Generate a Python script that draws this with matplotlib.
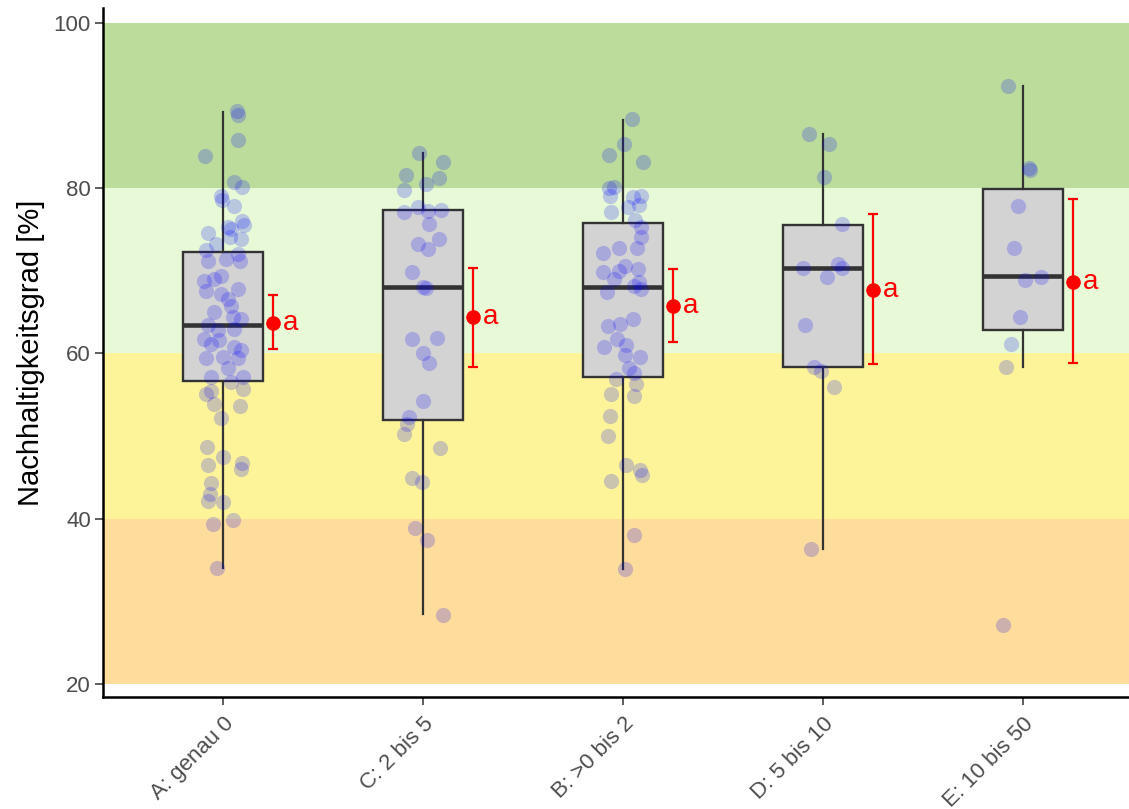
import matplotlib
matplotlib.use("Agg")
import matplotlib.pyplot as plt
import numpy as np

plt.rcParams["font.family"] = ["Liberation Sans", "DejaVu Sans"]

categories = ["A: genau 0", "C: 2 bis 5", "B: >0 bis 2", "D: 5 bis 10", "E: 10 bis 50"]

# individual observations (Nachhaltigkeitsgrad in %) and the observed jitter offsets
values_A = [89.3, 88.8, 85.8, 83.9, 80.7, 80.2, 79.1, 78.6, 77.8, 76.0, 75.5, 75.3, 75.0, 74.6,
            73.9, 74.1, 73.3, 72.5, 72.0, 71.4, 71.2, 71.2, 68.8, 69.4, 69.0, 67.8, 67.6, 67.2,
            66.6, 65.8, 65.0, 64.4, 64.2, 63.4, 62.8, 63.0, 61.8, 61.2, 61.6, 60.8, 60.4, 59.4,
            59.6, 59.4, 58.2, 57.1, 57.1, 56.5, 55.1, 55.5, 55.7, 53.9, 53.6, 52.2, 48.7, 47.5,
            46.5, 46.7, 46.0, 44.3, 43.0, 42.2, 42.0, 39.4, 39.9, 34.0]
jitter_A = [0.07, 0.077, 0.073, -0.089, 0.053, 0.093, -0.01, -0.007, 0.053, 0.093, 0.103, 0.023,
            0.04, -0.077, 0.09, 0.037, -0.035, -0.085, 0.077, 0.015, -0.077, 0.087, -0.093, -0.01,
            -0.043, 0.077, -0.085, -0.01, 0.023, 0.04, -0.043, 0.048, 0.09, -0.077, -0.027, 0.057,
            -0.093, -0.06, -0.018, 0.057, 0.09, -0.085, -0.002, 0.073, 0.023, -0.06, 0.098, 0.04,
            -0.085, -0.06, 0.098, -0.043, 0.087, -0.01, -0.08, 0.002, -0.077, 0.093, 0.09, -0.06,
            -0.063, -0.077, 0.002, -0.052, 0.048, -0.032]

values_C = [84.3, 83.2, 81.6, 81.2, 80.5, 79.8, 77.7, 77.1, 77.2, 77.4, 75.7, 73.9, 73.3, 72.6,
            69.9, 68.1, 67.9, 61.8, 61.9, 60.0, 58.9, 54.3, 52.3, 51.5, 50.3, 48.5, 44.9, 44.5,
            38.9, 37.4, 28.4]
jitter_C = [-0.018, 0.098, -0.085, 0.082, 0.015, -0.093, -0.027, -0.097, 0.023, 0.09, 0.028,
            0.078, -0.023, 0.027, -0.055, -0.002, 0.015, -0.055, 0.07, -0.002, 0.032, -0.002,
            -0.068, -0.082, -0.097, 0.087, -0.057, -0.005, -0.04, 0.018, 0.1]

values_B = [88.4, 85.3, 84.0, 83.2, 80.0, 80.2, 79.1, 78.9, 79.0, 78.0, 77.7, 77.1, 76.1, 75.3,
            74.1, 72.7, 72.8, 72.1, 70.6, 70.2, 69.8, 70.0, 69.0, 68.6, 68.2, 67.8, 67.4, 64.2,
            63.3, 63.6, 61.7, 60.8, 61.0, 59.8, 59.6, 58.2, 56.9, 57.6, 56.3, 55.1, 54.9, 52.4,
            50.0, 46.5, 45.9, 45.3, 44.6, 38.0, 33.9]
jitter_B = [0.045, 0.007, -0.072, 0.102, -0.068, -0.043, -0.063, 0.048, 0.09, 0.082, 0.023,
            -0.06, 0.062, 0.09, 0.09, 0.07, -0.018, -0.098, 0.01, 0.073, -0.102, -0.018, -0.043,
            0.082, 0.057, 0.09, -0.082, 0.048, -0.077, -0.013, -0.032, -0.093, 0.015, 0.01,
            0.085, 0.032, -0.035, 0.057, 0.065, -0.06, 0.057, -0.065, -0.073, 0.015, 0.087,
            0.093, -0.06, 0.053, 0.01]

values_D = [86.5, 85.4, 81.3, 75.7, 70.3, 70.8, 70.4, 69.2, 63.4, 58.3, 57.9, 55.9, 36.3]
jitter_D = [-0.068, 0.032, 0.007, 0.093, -0.098, 0.073, 0.093, 0.018, -0.09, -0.043, -0.01,
            0.057, -0.06]

values_E = [92.4, 82.5, 82.2, 77.8, 72.7, 68.9, 69.3, 64.4, 61.2, 58.3, 27.2]
jitter_E = [-0.074, 0.032, 0.037, -0.027, -0.044, 0.012, 0.09, -0.015, -0.06, -0.085, -0.1]

all_values = [values_A, values_C, values_B, values_D, values_E]
all_jitter = [jitter_A, jitter_C, jitter_B, jitter_D, jitter_E]

# box plot statistics
box_whislo = [34.0, 28.5, 33.9, 36.3, 58.3]
box_q1 = [56.7, 52.0, 57.2, 58.3, 62.8]
box_med = [63.5, 68.1, 68.1, 70.3, 69.4]
box_q3 = [72.3, 77.3, 75.8, 75.6, 79.9]
box_whishi = [89.2, 84.3, 88.3, 86.5, 92.4]

# mean with confidence interval
mean_vals = [63.7, 64.4, 65.8, 67.7, 68.7]
ci_low = [60.5, 58.4, 61.4, 58.7, 58.9]
ci_high = [67.1, 70.4, 70.2, 76.9, 78.7]
group_letters = ["a", "a", "a", "a", "a"]

# background bands
band_low = [20, 40, 60, 80]
band_high = [40, 60, 80, 100]
band_colors = ["#FEDC9B", "#FDF49A", "#E7F9D6", "#BCDC9C"]

W, H = 1129, 809
fig = plt.figure(figsize=(W / 100, H / 100), dpi=100)
ax = fig.add_axes([103 / W, (H - 697) / H, 1 - 103 / W, (697 - 8) / H])

for lo, hi, c in zip(band_low, band_high, band_colors):
    ax.axhspan(lo, hi, color=c, lw=0, zorder=0)

positions = np.arange(1, len(categories) + 1)
stats = [dict(med=m, q1=a, q3=b, whislo=lo, whishi=hi, fliers=[])
         for m, a, b, lo, hi in zip(box_med, box_q1, box_q3, box_whislo, box_whishi)]
ax.bxp(stats, positions=positions, widths=0.4, patch_artist=True, showcaps=False,
       showfliers=False,
       boxprops=dict(facecolor="#D3D3D3", edgecolor="#333333", linewidth=1.7),
       medianprops=dict(color="#333333", linewidth=3.3, solid_capstyle="butt"),
       whiskerprops=dict(color="#333333", linewidth=1.6),
       zorder=2)

for pos, vals, jit in zip(positions, all_values, all_jitter):
    ax.scatter(pos + np.array(jit), vals, s=120, color="blue", alpha=0.2,
               linewidths=0, zorder=3)

mean_arr = np.array(mean_vals)
ax.errorbar(positions + 0.25, mean_arr,
            yerr=[mean_arr - np.array(ci_low), np.array(ci_high) - mean_arr],
            fmt="o", color="red", ms=9.5, elinewidth=1.6, capsize=3.9, capthick=1.6,
            zorder=4)
for pos, m, lab in zip(positions, mean_vals, group_letters):
    ax.text(pos + 0.3, m, lab, color="red", fontsize=20, ha="left", va="center", zorder=5)

ax.set_xlim(0.4, 0.4 + (W - 103) / 200)
ax.set_ylim(18.43, 101.8)
ax.set_xticks(positions)
ax.set_xticklabels(categories, rotation=45, ha="right", va="top", rotation_mode="anchor")
ax.set_yticks([20, 40, 60, 80, 100])
ax.tick_params(axis="both", labelsize=16, labelcolor="#4D4D4D", color="#333333",
               length=5.8, width=1.1)
ax.tick_params(axis="y", pad=3)
ax.tick_params(axis="x", pad=6)
for s in ["top", "right"]:
    ax.spines[s].set_visible(False)
for s in ["left", "bottom"]:
    ax.spines[s].set_linewidth(1.8)
    ax.spines[s].set_color("black")
ax.set_facecolor("white")
ax.set_ylabel("Nachhaltigkeitsgrad [%]", fontsize=21, color="black", labelpad=6)

fig.savefig("out.png", dpi=100)
